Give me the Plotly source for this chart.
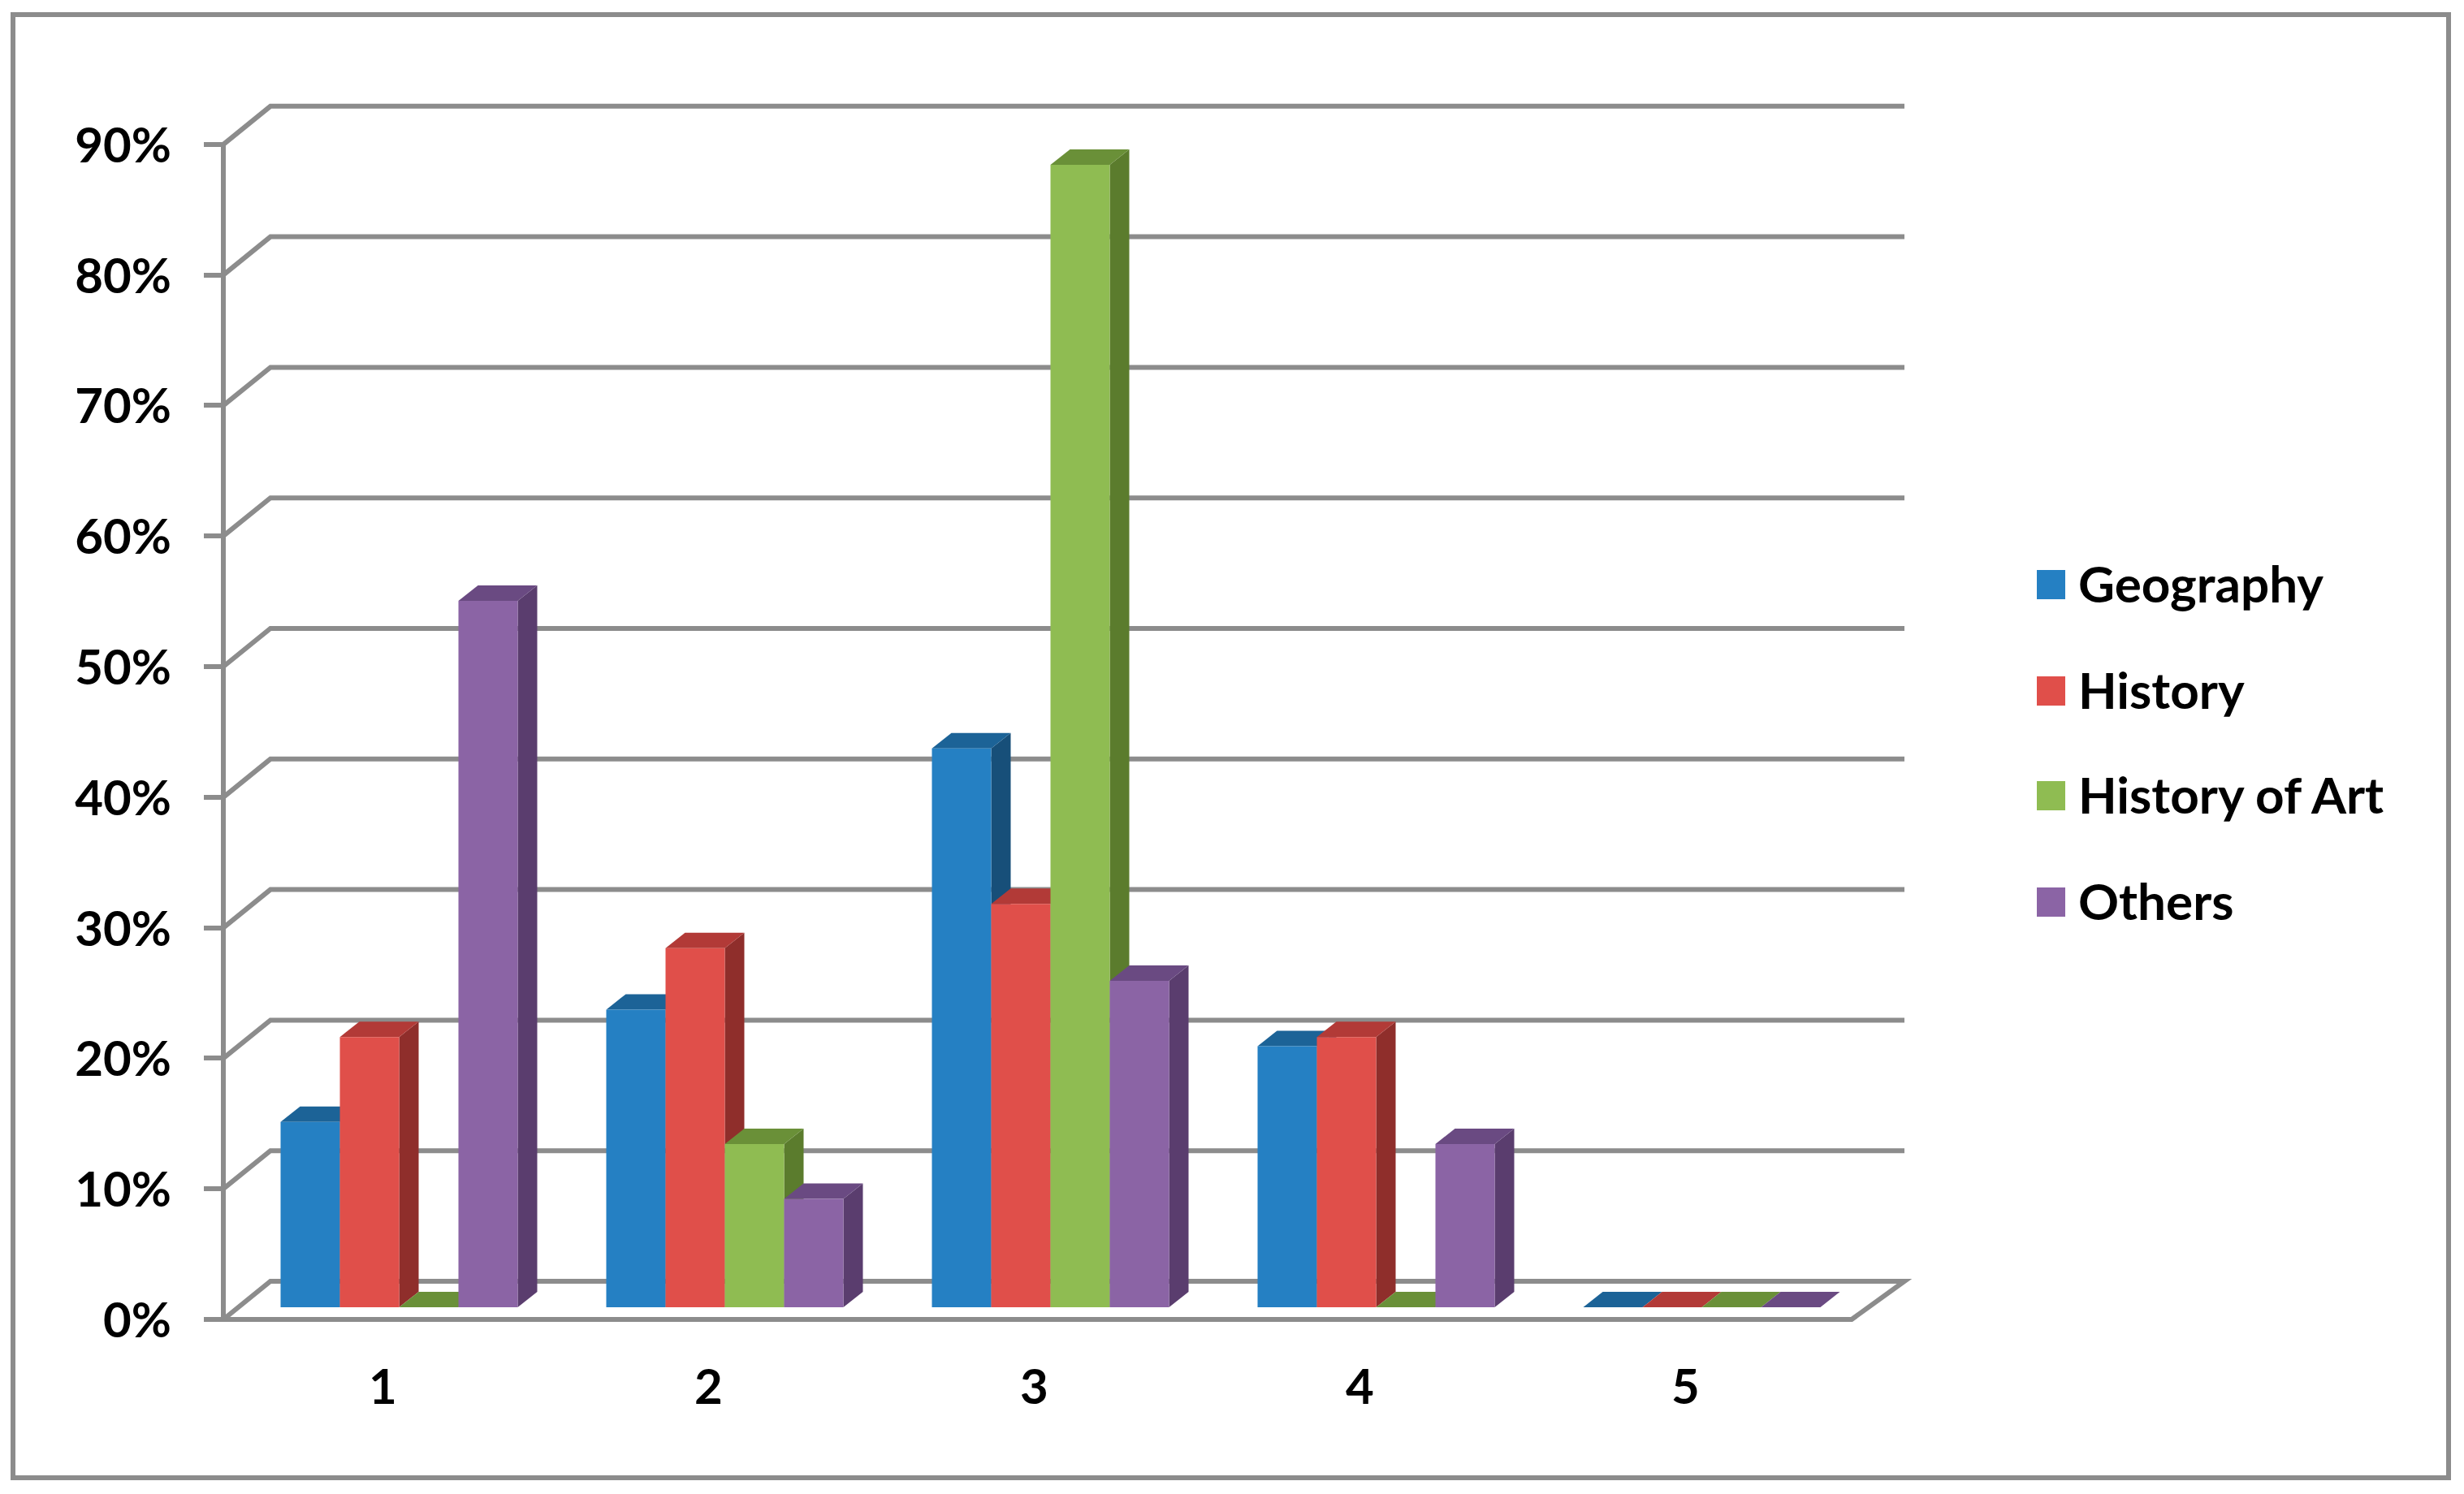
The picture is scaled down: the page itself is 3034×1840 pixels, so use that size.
import plotly.graph_objects as go

categories = [1, 2, 3, 4, 5]
series_names = ["Geography", "History", "History of Art", "Others"]
geography = [14.2, 22.8, 42.8, 20.0, 0]
history = [20.7, 27.5, 30.9, 20.7, 0]
history_of_art = [0, 12.5, 87.5, 0, 0]
others = [54.1, 8.3, 25.0, 12.5, 0]
y_ticks = [0, 10, 20, 30, 40, 50, 60, 70, 80, 90]
y_labels = ["0%", "10%", "20%", "30%", "40%", "50%", "60%", "70%", "80%", "90%"]

series_values = [geography, history, history_of_art, others]
front_colors = ["#2580c3", "#e04f4a", "#8fbc52", "#8b64a5"]
top_colors = ["#1c6397", "#b23a37", "#6a9038", "#6a4a82"]
side_colors = ["#174f79", "#8f2e2b", "#5b7c2d", "#5a3d6e"]
GRAY = "#8c8c8c"
FONT = "Lato"

W, H = 3034, 1840
L, R, T, B = 230, 2380, 100, 1650
PX_PER_CAT = 401.0
PX_PER_PCT = 16.08


def cat_of(px):
    return 1 + (px - 475.5) / PX_PER_CAT


def pct_of(py):
    return (1625 - py) / PX_PER_PCT


def paper_x(px):
    return (px - L) / (R - L)


def paper_y(py):
    return (B - py) / (B - T)


# oblique projection of the chart box, in axis units
WALL_DX, WALL_DY = 58 / PX_PER_CAT, 47 / PX_PER_PCT
WALL_END_DX = 65 / PX_PER_CAT
BAR_DX, BAR_DY = 16 / PX_PER_CAT, 15 / PX_PER_PCT
DEPTH_DX, DEPTH_DY = 24 / PX_PER_CAT, 19 / PX_PER_PCT
BAR_W = 73 / PX_PER_CAT
LEFT = 0.5
RIGHT = LEFT + len(categories)

fig = go.Figure()
shapes = []


def poly(points, color):
    path = "M" + "L".join(f"{x},{y}" for x, y in points) + "Z"
    return dict(type="path", path=path, xref="x", yref="y", layer="below",
                fillcolor=color, line=dict(width=0))


def line(points, width=6):
    path = "M" + "L".join(f"{x},{y}" for x, y in points)
    return dict(type="path", path=path, xref="x", yref="y", layer="below",
                line=dict(color=GRAY, width=width))


# walls and floor
for v in y_ticks[1:]:
    shapes.append(line([(LEFT, v), (LEFT + WALL_DX, v + WALL_DY),
                        (RIGHT + WALL_END_DX, v + WALL_DY)]))
shapes.append(line([(LEFT, 0), (LEFT + WALL_DX, WALL_DY), (RIGHT + WALL_END_DX, WALL_DY),
                    (RIGHT, 0), (LEFT, 0)]))
shapes.append(line([(LEFT, 0), (LEFT, y_ticks[-1])]))

# tops and sides, left to right; the fronts are bars above them
for c, cat in enumerate(categories):
    for s, values in enumerate(series_values):
        x0 = cat + BAR_DX + (s - 2) * BAR_W
        x1 = x0 + BAR_W
        top = values[c] + BAR_DY
        shapes.append(poly([(x1, BAR_DY), (x1 + DEPTH_DX, BAR_DY + DEPTH_DY),
                            (x1 + DEPTH_DX, top + DEPTH_DY), (x1, top)], side_colors[s]))
        shapes.append(poly([(x0, top), (x1, top), (x1 + DEPTH_DX, top + DEPTH_DY),
                            (x0 + DEPTH_DX, top + DEPTH_DY)], top_colors[s]))

for s, values in enumerate(series_values):
    fig.add_trace(go.Bar(
        x=[cat + BAR_DX + (s - 1.5) * BAR_W for cat in categories],
        y=values,
        base=BAR_DY,
        width=BAR_W,
        name=series_names[s],
        marker=dict(color=front_colors[s], line=dict(width=0)),
    ))

# outer frame
shapes.append(dict(type="rect", xref="paper", yref="paper",
                   x0=paper_x(16), x1=paper_x(3015), y0=paper_y(1820), y1=paper_y(18),
                   line=dict(color=GRAY, width=6)))

# legend, large swatches
legend_y = [720, 851, 980, 1111]
annotations = []
for s, name in enumerate(series_names):
    shapes.append(dict(type="rect", xref="paper", yref="paper",
                       x0=paper_x(2508), x1=paper_x(2543),
                       y0=paper_y(legend_y[s] + 18), y1=paper_y(legend_y[s] - 18),
                       fillcolor=front_colors[s], line=dict(width=0)))
    annotations.append(dict(xref="paper", yref="paper", x=paper_x(2557), y=paper_y(legend_y[s] - 2),
                            text=name, showarrow=False, xanchor="left", yanchor="middle",
                            font=dict(family=FONT, size=62, color="black", weight=700)))

fig.update_layout(
    width=W,
    height=H,
    autosize=False,
    margin=dict(l=L, r=W - R, t=T, b=H - B),
    paper_bgcolor="white",
    plot_bgcolor="white",
    barmode="overlay",
    showlegend=False,
    shapes=shapes,
    annotations=annotations,
    xaxis=dict(
        range=[cat_of(L), cat_of(R)],
        tickmode="array",
        tickvals=categories,
        ticktext=[str(c) for c in categories],
        showgrid=False,
        zeroline=False,
        showline=False,
        ticks="",
        ticklabelstandoff=18,
        ticklabelshift=-4,
        tickfont=dict(family=FONT, size=60, color="black", weight=700),
    ),
    yaxis=dict(
        range=[pct_of(B), pct_of(T)],
        anchor="free",
        position=paper_x(275),
        tickmode="array",
        tickvals=y_ticks,
        ticktext=y_labels,
        showgrid=False,
        zeroline=False,
        showline=False,
        ticks="outside",
        ticklen=24,
        tickwidth=6,
        tickcolor=GRAY,
        ticklabelstandoff=28,
        ticklabelshift=1,
        tickfont=dict(family=FONT, size=60, color="black", weight=700),
    ),
)

fig.write_html("out.html", config=dict(displayModeBar=False),
               post_script="document.body.style.margin='0'")
